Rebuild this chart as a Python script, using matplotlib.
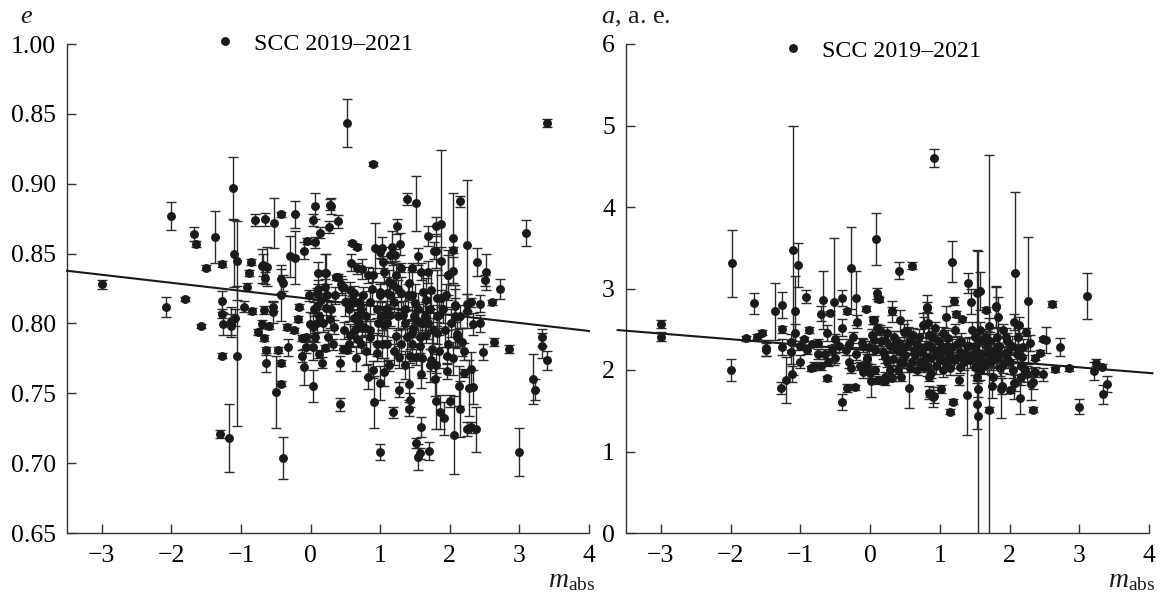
import matplotlib
matplotlib.use('Agg')
import matplotlib.pyplot as plt

plt.rcParams['font.family'] = ['Liberation Serif', 'DejaVu Serif']
plt.rcParams['mathtext.fontset'] = 'custom'
plt.rcParams['mathtext.rm'] = 'Liberation Serif'
plt.rcParams['mathtext.it'] = 'Liberation Serif:italic'

INK = '#1a1a1a'
W, H = 1160, 596

# Left panel: eccentricity
m_e = [
    -3.0, -2.08, -2.0, -1.8, -1.68, -1.64, -1.57, -1.51, -1.38, -1.28,
    -1.28, -1.28, -1.26, -1.27, -1.30, -1.17, -1.14, -1.14, -1.12, -1.10,
    -1.09, -1.06, -1.06, -0.95, -0.92, -0.89, -0.86, -0.84, -0.80, -0.76,
    -0.70, -0.70, -0.68, -0.67, -0.67, -0.65, -0.65, -0.64, -0.64, -0.62,
    -0.60, -0.54, -0.54, -0.52, -0.49, -0.47, -0.43, -0.43, -0.43, -0.42,
    -0.42, -0.40, -0.39, -0.34, -0.33, -0.30, -0.24, -0.23, -0.22, -0.18,
    -0.17, -0.13, -0.13, -0.10, -0.10, -0.07, -0.06, -0.05, -0.01, 0.03,
    0.03, 0.03, 0.04, 0.06, 0.07, 0.07, 0.09, 0.09, 0.09, 0.11,
    0.12, 0.14, 0.15, 0.16, 0.20, 0.20, 0.20, 0.22, 0.22, 0.26,
    0.28, 0.28, 0.30, 0.33, 0.37, 0.39, 0.39, 0.42, 0.42, 0.45,
    0.46, 0.46, 0.53, 0.52, 0.56, 0.56, 0.58, 0.59, 0.60, 0.61,
    0.62, 0.65, 0.66, 0.66, 0.67, 0.67, 0.70, 0.74, 0.74, 0.78,
    0.82, 0.82, 0.85, 0.89, 0.90, 0.90, 0.91, 0.93, 0.95, 0.99,
    0.99, 1.00, 1.00, 1.02, 1.02, 1.04, 1.05, 1.06, 1.06, 1.10,
    1.13, 1.14, 1.14, 1.14, 1.17, 1.18, 1.18, 1.21, 1.23, 1.23,
    1.24, 1.27, 1.27, 1.28, 1.30, 1.30, 1.33, 1.39, 1.41, 1.42,
    1.42, 1.43, 1.43, 1.45, 1.45, 1.45, 1.47, 1.50, 1.52, 1.52,
    1.52, 1.54, 1.54, 1.54, 1.57, 1.57, 1.57, 1.58, 1.59, 1.59,
    1.62, 1.66, 1.66, 1.69, 1.69, 1.69, 1.70, 1.73, 1.73, 1.75,
    1.78, 1.79, 1.80, 1.80, 1.80, 1.80, 1.81, 1.81, 1.84, 1.86,
    1.88, 1.88, 1.88, 1.91, 1.96, 1.96, 1.97, 1.98, 2.00, 2.04,
    2.04, 2.04, 2.06, 2.07, 2.07, 2.07, 2.10, 2.13, 2.14, 2.14,
    2.18, 2.21, 2.24, 2.24, 2.24, 2.24, 2.28, 2.31, 2.31, 2.31,
    2.34, 2.34, 2.37, 2.39, 2.44, 2.44, 2.47, 2.51, 2.52, 2.60,
    2.64, 2.72, 2.85, 3.0, 3.1, 3.2, 3.23, 3.32, 3.33, 3.4,
    3.4,
    # dense middle of the cloud
    0.44, 0.5, 0.55, 0.63, 0.7, 0.72, 0.76, 0.8, 0.86, 0.88,
    0.95, 0.97, 1.0, 1.08, 1.1, 1.12, 1.2, 1.25, 1.26, 1.35,
    1.36, 1.38, 1.4, 1.48, 1.55, 1.6, 1.65, 1.72, 1.76, 1.82,
    1.9, 1.93, 1.95, 2.02, 2.1, 2.15, 0.48, 0.55, 0.64, 0.72,
    0.8, 0.86, 0.95, 1.02, 1.1, 1.2, 1.3, 1.35, 1.45, 1.6,
    1.72, 1.85, 1.98, 2.05, 2.2, 0.1, 0.24, 0.3, 0.35, 0.05,
    -0.02, 0.25, 0.32, 0.18, 0.12,
]
e_vals = [
    0.828, 0.8117, 0.877, 0.8175, 0.864, 0.857, 0.798, 0.840, 0.862, 0.8425,
    0.816, 0.807, 0.7995, 0.777, 0.721, 0.718, 0.802, 0.7985, 0.897, 0.850,
    0.804, 0.845, 0.7767, 0.812, 0.826, 0.836, 0.844, 0.809, 0.874, 0.794,
    0.841, 0.7995, 0.842, 0.8095, 0.7895, 0.8745, 0.8325, 0.781, 0.7715, 0.8405,
    0.798, 0.812, 0.808, 0.872, 0.751, 0.781, 0.878, 0.820, 0.757, 0.832,
    0.7715, 0.704, 0.829, 0.7975, 0.783, 0.848, 0.795, 0.878, 0.847, 0.803,
    0.812, 0.7895, 0.7767, 0.852, 0.769, 0.783, 0.790, 0.859, 0.7995, 0.874,
    0.7975, 0.755, 0.783, 0.858, 0.884, 0.790, 0.8216, 0.8125, 0.800, 0.836,
    0.778, 0.865, 0.817, 0.772, 0.836, 0.826, 0.7825, 0.836, 0.811, 0.869,
    0.885, 0.803, 0.884, 0.7975, 0.833, 0.873, 0.8335, 0.7715, 0.742, 0.826,
    0.8263, 0.7815, 0.9435, 0.781, 0.824, 0.7917, 0.8435, 0.8575, 0.8145, 0.8167,
    0.804, 0.775, 0.8394, 0.789, 0.855, 0.8053, 0.8005, 0.839, 0.7965, 0.7965,
    0.8347, 0.762, 0.795, 0.914, 0.8347, 0.767, 0.744, 0.854, 0.779, 0.851,
    0.8222, 0.7575, 0.708, 0.854, 0.805, 0.844, 0.765, 0.837, 0.7989, 0.8215,
    0.770, 0.849, 0.8203, 0.806, 0.855, 0.7365, 0.8275, 0.849, 0.8347, 0.791,
    0.8695, 0.776, 0.7525, 0.857, 0.840, 0.8215, 0.806, 0.889, 0.7387, 0.8287,
    0.757, 0.7767, 0.745, 0.84, 0.8203, 0.793, 0.7965, 0.8145, 0.886, 0.776,
    0.7145, 0.7045, 0.848, 0.802, 0.707, 0.7905, 0.7838, 0.7258, 0.837, 0.764,
    0.8222, 0.8167, 0.7917, 0.8625, 0.837, 0.8005, 0.7085, 0.824, 0.774, 0.7815,
    0.852, 0.760, 0.8695, 0.852, 0.77, 0.7445, 0.818, 0.793, 0.806, 0.7365,
    0.871, 0.845, 0.818, 0.732, 0.777, 0.766, 0.8347, 0.8347, 0.7445, 0.861,
    0.8375, 0.8525, 0.72, 0.8125, 0.813, 0.8053, 0.7926, 0.7552, 0.8875, 0.7387,
    0.7865, 0.7645, 0.856, 0.814, 0.809, 0.7242, 0.7538, 0.815, 0.7674, 0.7258,
    0.7545, 0.7995, 0.7242, 0.844, 0.814, 0.8, 0.7795, 0.831, 0.837, 0.815,
    0.7867, 0.8245, 0.7817, 0.708, 0.8645, 0.76, 0.7525, 0.79, 0.784, 0.9435,
    0.7735,
    0.828, 0.815, 0.81, 0.822, 0.815, 0.81, 0.82, 0.805, 0.815, 0.825,
    0.81, 0.8, 0.82, 0.81, 0.8, 0.83, 0.815, 0.805, 0.825, 0.81,
    0.8, 0.79, 0.82, 0.805, 0.81, 0.8, 0.805, 0.81, 0.795, 0.805,
    0.81, 0.795, 0.82, 0.8, 0.79, 0.805, 0.795, 0.785, 0.795, 0.785,
    0.78, 0.79, 0.785, 0.785, 0.785, 0.78, 0.785, 0.77, 0.785, 0.775,
    0.77, 0.78, 0.785, 0.775, 0.78, 0.825, 0.82, 0.81, 0.82, 0.81,
    0.82, 0.79, 0.785, 0.8, 0.805,
]
e_errs = [
    0.003, 0.007, 0.010, 0.0015, 0.005, 0.002, 0.0015, 0.002, 0.0187, 0.002,
    0.0075, 0.003, 0.008, 0.002, 0.003, 0.024, 0.010, 0.008, 0.0224, 0.024,
    0.006, 0.028, 0.05, 0.004, 0.003, 0.002, 0.002, 0.002, 0.0045, 0.002,
    0.012, 0.003, 0.008, 0.003, 0.002, 0.0045, 0.004, 0.002, 0.006, 0.014,
    0.002, 0.003, 0.008, 0.0177, 0.026, 0.002, 0.002, 0.0186, 0.002, 0.01,
    0.002, 0.015, 0.006, 0.002, 0.006, 0.0146, 0.002, 0.0095, 0.019, 0.002,
    0.002, 0.002, 0.004, 0.006, 0.013, 0.004, 0.002, 0.002, 0.009, 0.0045,
    0.01, 0.0115, 0.009, 0.004, 0.009, 0.003, 0.004, 0.004, 0.006, 0.008,
    0.003, 0.004, 0.004, 0.004, 0.014, 0.006, 0.002, 0.014, 0.01, 0.004,
    0.004, 0.006, 0.0055, 0.005, 0.002, 0.0045, 0.002, 0.0055, 0.0047, 0.006,
    0.0015, 0.003, 0.017, 0.002, 0.006, 0.008, 0.006, 0.0015, 0.005, 0.004,
    0.006, 0.009, 0.004, 0.006, 0.0015, 0.01, 0.006, 0.007, 0.012, 0.005,
    0.006, 0.009, 0.008, 0.0015, 0.005, 0.006, 0.0187, 0.018, 0.006, 0.004,
    0.006, 0.012, 0.0058, 0.008, 0.01, 0.004, 0.01, 0.008, 0.008, 0.012,
    0.004, 0.006, 0.01, 0.008, 0.011, 0.004, 0.014, 0.004, 0.008, 0.006,
    0.0055, 0.008, 0.0055, 0.008, 0.003, 0.012, 0.01, 0.0045, 0.005, 0.012,
    0.012, 0.005, 0.005, 0.003, 0.018, 0.01, 0.006, 0.014, 0.0198, 0.006,
    0.0035, 0.0095, 0.006, 0.012, 0.004, 0.012, 0.01, 0.007, 0.006, 0.01,
    0.014, 0.016, 0.006, 0.007, 0.008, 0.012, 0.0065, 0.014, 0.008, 0.012,
    0.006, 0.012, 0.007, 0.012, 0.008, 0.02, 0.02, 0.008, 0.012, 0.012,
    0.053, 0.01, 0.006, 0.012, 0.006, 0.006, 0.018, 0.014, 0.004, 0.032,
    0.01, 0.002, 0.028, 0.006, 0.012, 0.022, 0.01, 0.014, 0.004, 0.02,
    0.01, 0.003, 0.047, 0.007, 0.012, 0.005, 0.02, 0.003, 0.012, 0.004,
    0.012, 0.008, 0.016, 0.0103, 0.006, 0.006, 0.0055, 0.004, 0.013, 0.002,
    0.003, 0.007, 0.003, 0.017, 0.0094, 0.018, 0.0076, 0.006, 0.009, 0.003,
    0.007,
    0.006, 0.01, 0.008, 0.005, 0.007, 0.01, 0.006, 0.01, 0.008, 0.009,
    0.006, 0.008, 0.01, 0.006, 0.012, 0.008, 0.007, 0.01, 0.006, 0.012,
    0.009, 0.012, 0.008, 0.01, 0.012, 0.008, 0.01, 0.012, 0.009, 0.008,
    0.01, 0.012, 0.008, 0.01, 0.006, 0.008, 0.006, 0.005, 0.008, 0.006,
    0.01, 0.012, 0.008, 0.01, 0.012, 0.01, 0.012, 0.01, 0.012, 0.014,
    0.012, 0.012, 0.01, 0.012, 0.006, 0.006, 0.008, 0.005, 0.006, 0.005,
    0.004, 0.005, 0.004, 0.006, 0.005,
]

# Right panel: semimajor axis
m_a = [
    -3.0, -3.0, -1.98, -2.0, -1.78, -1.66, -1.62, -1.55, -1.49, -1.49,
    -1.36, -1.28, -1.26, -1.26, -1.26, -1.20, -1.13, -1.13, -1.12, -1.10,
    -1.08, -1.08, -1.03, -1.0, -0.95, -0.92, -0.87, -0.85, -0.83, -0.80,
    -0.75, -0.70, -0.70, -0.67, -0.65, -0.62, -0.62, -0.58, -0.55, -0.52,
    -0.50, -0.45, -0.40, -0.40, -0.40, -0.35, -0.33, -0.33, -0.30, -0.27,
    -0.22, -0.20, -0.20, -0.19, -0.15, -0.12, -0.10, -0.06, -0.05, -0.05,
    0.0, 0.02, 0.04, 0.05, 0.05, 0.07, 0.07, 0.09, 0.10, 0.10,
    0.11, 0.12, 0.13, 0.14, 0.21, 0.21, 0.22, 0.22, 0.29, 0.31,
    0.31, 0.32, 0.33, 0.41, 0.41, 0.43, 0.43, 0.45, 0.48, 0.50,
    0.53, 0.55, 0.56, 0.57, 0.60, 0.62, 0.65, 0.67, 0.67, 0.72,
    0.76, 0.77, 0.77, 0.79, 0.81, 0.82, 0.83, 0.84, 0.84, 0.84,
    0.85, 0.86, 0.86, 0.88, 0.90, 0.91, 0.92, 0.93, 0.96, 1.02,
    1.05, 1.05, 1.05, 1.09, 1.12, 1.15, 1.15, 1.18, 1.19, 1.21,
    1.22, 1.23, 1.27, 1.29, 1.29, 1.32, 1.39, 1.39, 1.41, 1.45,
    1.46, 1.51, 1.51, 1.53, 1.53, 1.54, 1.54, 1.55, 1.55, 1.56,
    1.57, 1.58, 1.58, 1.66, 1.67, 1.67, 1.70, 1.71, 1.71, 1.71,
    1.75, 1.77, 1.80, 1.80, 1.81, 1.82, 1.84, 1.84, 1.88, 1.89,
    1.90, 1.91, 1.96, 1.96, 2.01, 2.01, 2.07, 2.07, 2.08, 2.08,
    2.12, 2.14, 2.15, 2.17, 2.18, 2.23, 2.25, 2.27, 2.30, 2.31,
    2.33, 2.34, 2.36, 2.36, 2.44, 2.48, 2.48, 2.53, 2.61, 2.65,
    2.73, 2.85, 3.0, 3.11, 3.21, 3.24, 3.33, 3.34, 3.4,
    # dense middle of the cloud
    0.25, 0.35, 0.38, 0.46, 0.52, 0.58, 0.6, 0.63, 0.7, 0.72,
    0.75, 0.8, 0.82, 0.87, 0.9, 0.93, 0.95, 0.98, 1.0, 1.03,
    1.07, 1.1, 1.13, 1.14, 1.18, 1.2, 1.24, 1.26, 1.3, 1.34,
    1.36, 1.42, 1.44, 1.48, 1.5, 1.52, 1.56, 1.6, 1.63, 1.65,
    1.68, 1.72, 1.74, 1.78, 1.82, 1.85, 1.87, 1.92, 1.95, 1.98,
    2.03, 2.05, 2.1, 2.12, 2.16, 2.2, 2.22, 0.15, 0.18, 0.25,
    0.28, 0.36, 0.4, 0.47, -0.02, 0.03, -0.25, -0.3, -0.5, -0.6,
    -0.75, -0.9, -1.0, -0.28, -0.1, -0.06,
]
a_vals = [
    2.56, 2.41, 3.31, 2.0, 2.39, 2.82, 2.41, 2.46, 2.27, 2.25,
    2.72, 1.78, 2.8, 2.5, 2.28, 1.88, 2.34, 2.22, 1.95, 3.47,
    2.72, 2.46, 3.29, 2.1, 2.38, 2.9, 2.49, 2.02, 2.32, 2.05,
    2.2, 2.69, 2.05, 2.86, 2.2, 2.45, 1.9, 2.7, 2.25, 2.84,
    2.15, 2.3, 2.88, 2.52, 1.61, 2.25, 2.72, 1.78, 2.1, 3.25,
    1.79, 2.88, 2.2, 2.59, 2.05, 2.33, 2.3, 2.75, 2.15, 2.14,
    1.96, 1.87, 2.61, 2.61, 2.37, 2.25, 2.0, 3.61, 2.94, 2.51,
    2.88, 1.88, 2.87, 2.49, 1.87, 1.92, 2.37, 2.16, 2.29, 2.72,
    1.9, 2.72, 2.14, 3.22, 2.33, 2.61, 2.1, 1.92, 2.47, 2.18,
    2.48, 2.47, 1.78, 2.02, 3.28, 2.43, 2.18, 2.31, 2.0, 2.28,
    2.55, 2.55, 2.04, 2.14, 2.77, 2.76, 2.58, 2.43, 2.29, 1.92,
    1.72, 2.29, 1.71, 1.96, 1.67, 4.6, 1.68, 2.51, 2.18, 1.77,
    2.45, 2.25, 2.0, 2.65, 2.39, 2.14, 1.49, 3.33, 1.61, 2.85,
    2.49, 2.69, 1.88, 2.22, 2.04, 2.62, 2.29, 1.69, 3.07, 2.84,
    2.49, 2.41, 2.04, 2.22, 1.92, 2.94, 1.58, 1.77, 1.44, 2.1,
    2.0, 2.97, 2.49, 2.74, 2.33, 2.08, 2.12, 2.2, 2.54, 1.51,
    1.8, 1.92, 2.78, 2.18, 2.77, 2.41, 2.65, 2.2, 1.77, 1.8,
    2.49, 2.06, 2.35, 2.22, 1.75, 2.1, 1.84, 2.59, 3.19, 1.84,
    2.26, 2.55, 1.66, 1.92, 2.16, 2.47, 1.95, 2.85, 2.33, 1.83,
    1.85, 1.51, 2.15, 1.98, 2.21, 2.38, 1.95, 2.37, 2.81, 2.01,
    2.28, 2.02, 1.55, 2.91, 1.99, 2.09, 2.04, 1.7, 1.83,
    2.45, 2.4, 2.25, 2.22, 2.3, 2.35, 2.1, 2.25, 2.4, 2.1,
    2.22, 2.3, 2.05, 2.15, 2.4, 2.25, 2.05, 2.35, 2.12, 2.28,
    2.1, 2.3, 2.2, 2.02, 2.28, 2.12, 2.32, 2.16, 2.35, 2.1,
    2.2, 2.3, 2.12, 2.2, 2.3, 2.15, 2.35, 2.2, 2.05, 2.4,
    2.28, 2.35, 2.1, 2.25, 2.15, 2.3, 2.03, 2.2, 2.4, 2.12,
    2.3, 2.0, 2.2, 2.4, 2.05, 2.28, 2.0, 2.35, 2.22, 2.1,
    2.0, 2.32, 2.0, 2.08, 2.28, 2.43, 2.4, 2.32, 2.38, 2.1,
    2.33, 2.25, 2.3, 2.02, 1.98, 2.05,
]
a_errs = [
    0.05, 0.06, 0.41, 0.13, 0.03, 0.13, 0.03, 0.03, 0.1, 0.08,
    0.35, 0.07, 0.16, 0.04, 0.1, 0.28, 0.1, 0.15, 0.1, 1.53,
    0.43, 0.1, 0.27, 0.08, 0.03, 0.08, 0.04, 0.03, 0.03, 0.05,
    0.06, 0.09, 0.05, 0.36, 0.06, 0.1, 0.03, 0.03, 0.06, 0.78,
    0.06, 0.08, 0.1, 0.1, 0.1, 0.06, 0.03, 0.05, 0.08, 0.5,
    0.03, 0.33, 0.08, 0.08, 0.05, 0.06, 0.08, 0.03, 0.1, 0.06,
    0.06, 0.2, 0.04, 0.05, 0.07, 0.06, 0.05, 0.32, 0.07, 0.05,
    0.03, 0.05, 0.03, 0.06, 0.05, 0.05, 0.08, 0.07, 0.08, 0.13,
    0.03, 0.05, 0.08, 0.1, 0.08, 0.13, 0.08, 0.06, 0.1, 0.06,
    0.13, 0.06, 0.25, 0.05, 0.04, 0.08, 0.08, 0.1, 0.06, 0.07,
    0.15, 0.1, 0.07, 0.07, 0.06, 0.16, 0.12, 0.08, 0.1, 0.06,
    0.08, 0.1, 0.04, 0.06, 0.12, 0.115, 0.08, 0.08, 0.08, 0.05,
    0.08, 0.1, 0.08, 0.13, 0.1, 0.08, 0.03, 0.25, 0.03, 0.05,
    0.08, 0.04, 0.06, 0.1, 0.08, 0.03, 0.1, 0.49, 0.12, 0.15,
    0.1, 0.08, 0.1, 0.1, 0.08, 0.53, 0.3, 0.1, 2.02, 0.12,
    0.12, 0.23, 0.1, 0.03, 0.15, 0.12, 0.1, 2.44, 0.1, 0.03,
    0.14, 0.12, 0.25, 0.15, 0.25, 0.1, 0.25, 0.12, 0.36, 0.1,
    0.08, 0.1, 0.1, 0.12, 0.03, 0.15, 0.2, 0.1, 0.99, 0.1,
    0.12, 0.1, 0.2, 0.1, 0.1, 0.05, 0.1, 0.78, 0.1, 0.2,
    0.08, 0.03, 0.03, 0.06, 0.03, 0.03, 0.08, 0.16, 0.04, 0.03,
    0.11, 0.03, 0.09, 0.28, 0.11, 0.04, 0.03, 0.12, 0.1,
    0.08, 0.08, 0.07, 0.06, 0.1, 0.08, 0.08, 0.1, 0.1, 0.1,
    0.08, 0.1, 0.12, 0.1, 0.08, 0.1, 0.1, 0.1, 0.1, 0.12,
    0.1, 0.1, 0.1, 0.08, 0.1, 0.1, 0.1, 0.08, 0.1, 0.1,
    0.1, 0.1, 0.1, 0.12, 0.1, 0.15, 0.1, 0.12, 0.1, 0.1,
    0.1, 0.12, 0.1, 0.1, 0.1, 0.1, 0.1, 0.1, 0.12, 0.1,
    0.12, 0.1, 0.12, 0.12, 0.1, 0.1, 0.08, 0.08, 0.08, 0.06,
    0.05, 0.07, 0.05, 0.06, 0.08, 0.07, 0.07, 0.06, 0.06, 0.05,
    0.05, 0.05, 0.06, 0.06, 0.08, 0.06,
]

# Trend lines
trend_m_e = [-3.5, 4.0]
trend_e = [0.8377, 0.7946]
trend_m_a = [-3.62, 4.05]
trend_a = [2.49, 1.96]

xticks = [-3, -2, -1, 0, 1, 2, 3, 4]
xtick_labels = ['\u22123', '\u22122', '\u22121', '0', '1', '2', '3', '4']
e_ticks = [0.65, 0.70, 0.75, 0.80, 0.85, 0.90, 0.95, 1.00]
e_tick_labels = ['0.65', '0.70', '0.75', '0.80', '0.85', '0.90', '0.85', '1.00']
a_ticks = [0, 1, 2, 3, 4, 5, 6]


def axes_px(left, right, top=44, bottom=533):
    return [left / W, (H - bottom) / H, (right - left) / W, (bottom - top) / H]


def draw_panel(ax, m, vals, errs, tm, tv, ylim, yticks, ylabels, leg_px):
    ax.errorbar(m, vals, yerr=errs, fmt='o', color=INK, ms=5.4, mec=INK,
                elinewidth=1.0, capsize=3.6, capthick=1.0, ecolor='#2b2b2b')
    ax.plot(tm, tv, color=INK, lw=1.5, clip_on=False, zorder=5)
    ax.set_xlim(-3.5, 4)
    ax.set_ylim(*ylim)
    ax.set_xticks(xticks, xtick_labels)
    ax.set_yticks(yticks, ylabels)
    ax.tick_params(direction='in', length=6.5, width=1.0, labelsize=18.5, color='#333333')
    ax.tick_params(axis='x', pad=9)
    ax.tick_params(axis='y', pad=8)
    ax.spines[['top', 'right']].set_visible(False)
    ax.spines[['left', 'bottom']].set_linewidth(1.0)
    ax.spines[['left', 'bottom']].set_color('#333333')
    h, = ax.plot([], [], 'o', color=INK, ms=6.4, mew=0, label='SCC 2019\u20132021')
    ax.legend(handles=[h], loc='center left', frameon=False, fontsize=17.2,
              borderpad=0, borderaxespad=0, handlelength=0, handletextpad=1.2,
              bbox_to_anchor=(leg_px[0] / W, 1 - leg_px[1] / H),
              bbox_transform=ax.figure.transFigure)


fig = plt.figure(figsize=(W / 100, H / 100), dpi=100)
ax1 = fig.add_axes(axes_px(67, 589))
ax2 = fig.add_axes(axes_px(626, 1149))

draw_panel(ax1, m_e, e_vals, e_errs, trend_m_e, trend_e, (0.65, 1.00),
           e_ticks, e_tick_labels, (225, 44))
draw_panel(ax2, m_a, a_vals, a_errs, trend_m_a, trend_a, (0, 6),
           a_ticks, [str(t) for t in a_ticks], (793, 51))

fig.text(20 / W, 1 - 23 / H, 'e', style='italic', fontsize=19, color=INK, va='baseline')
fig.text(601 / W, 1 - 23 / H, '$a$, a. e.', fontsize=19, color=INK, va='baseline')
fig.text(595 / W, 1 - 587 / H, r'$m_{\mathrm{abs}}$', fontsize=20, color=INK, ha='right', va='baseline')
fig.text(1155 / W, 1 - 587 / H, r'$m_{\mathrm{abs}}$', fontsize=20, color=INK, ha='right', va='baseline')

fig.savefig('out.png', dpi=100)
